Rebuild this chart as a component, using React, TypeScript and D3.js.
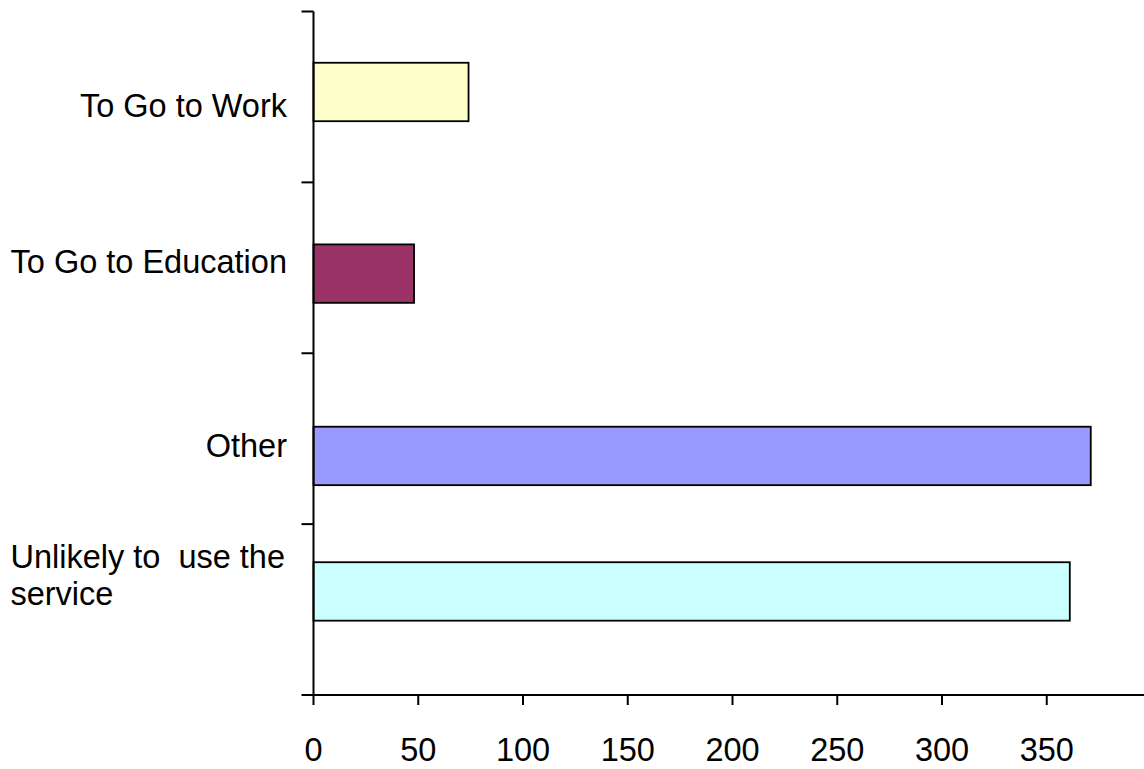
import React, { useEffect, useRef } from "react";
import * as d3 from "d3";

const categories: string[][] = [
  ["To Go to Work"],
  ["To Go to Education"],
  ["Other"],
  ["Unlikely to  use the", "service"],
];
const values: number[] = [74, 48, 371, 361];
const colors: string[] = ["#FFFFCC", "#993366", "#9999FF", "#CCFFFF"];
// positions along the category axis (in category units from bottom)
const barPos: number[] = [3.529, 2.466, 1.399, 0.606];
const labelPos: number[] = [3.452, 2.536, 1.459, 0.702];
const xTicks: number[] = [0, 50, 100, 150, 200, 250, 300, 350];
const catTicks: number[] = [0, 1, 2, 3, 4];

const W = 1144;
const H = 769;
const FONT = "'Liberation Sans', Arial, sans-serif";
const FS = 32.5;

export default function App() {
  const ref = useRef<SVGSVGElement>(null);
  useEffect(() => {
    const svg = d3.select(ref.current);
    svg.selectAll("*").remove();
    const x = d3.scaleLinear().domain([0, 400]).range([313.5, 1151.5]);
    const y = d3.scaleLinear().domain([0, 4]).range([695, 11.5]);
    const barH = y(0) - y(0.342);

    // bars
    svg
      .append("g")
      .selectAll("rect")
      .data(values)
      .join("rect")
      .attr("x", x(0))
      .attr("y", (_, i) => y(barPos[i]) - barH / 2)
      .attr("width", (d) => x(d) - x(0))
      .attr("height", barH)
      .attr("fill", (_, i) => colors[i])
      .attr("stroke", "#000")
      .attr("stroke-width", 1.8);

    // axes
    const ax = svg.append("g").attr("stroke", "#000").attr("stroke-width", 2);
    ax.append("line")
      .attr("x1", x(0))
      .attr("x2", x(0))
      .attr("y1", y(4))
      .attr("y2", y(0));
    ax.append("line")
      .attr("x1", x(0))
      .attr("x2", W + 10)
      .attr("y1", y(0))
      .attr("y2", y(0));
    ax.selectAll("line.ct")
      .data(catTicks)
      .join("line")
      .attr("class", "ct")
      .attr("x1", x(0) - 12)
      .attr("x2", x(0))
      .attr("y1", (d) => y(d))
      .attr("y2", (d) => y(d));
    ax.selectAll("line.xt")
      .data(xTicks)
      .join("line")
      .attr("class", "xt")
      .attr("x1", (d) => x(d))
      .attr("x2", (d) => x(d))
      .attr("y1", y(0))
      .attr("y2", y(0) + 10);

    // x tick labels
    svg
      .append("g")
      .selectAll("text")
      .data(xTicks)
      .join("text")
      .attr("x", (d) => x(d))
      .attr("y", y(0) + 66)
      .attr("text-anchor", "middle")
      .attr("font-family", FONT)
      .attr("font-size", FS)
      .attr("fill", "#000")
      .text((d) => String(d));

    // category labels
    const lineH = 36.7;
    const rightEdge = 287;
    categories.forEach((lines, i) => {
      const first = y(labelPos[i]) + 11.6 - ((lines.length - 1) * lineH) / 2;
      const t = svg
        .append("text")
        .attr("font-family", FONT)
        .attr("font-size", FS)
        .attr("fill", "#000")
        .style("white-space", "pre");
      const spans = lines.map((ln, j) =>
        t
          .append("tspan")
          .attr("y", first + j * lineH)
          .text(ln)
      );
      let maxW = 0;
      spans.forEach((s) => {
        const n = s.node() as SVGTSpanElement;
        maxW = Math.max(maxW, n.getComputedTextLength());
      });
      if (lines.length === 1) {
        spans[0].attr("x", rightEdge).attr("text-anchor", "end");
      } else {
        spans.forEach((s) => s.attr("x", rightEdge - 2 - maxW));
      }
    });
  }, []);
  return (
    <svg
      ref={ref}
      width={W}
      height={H}
      style={{ position: "absolute", left: 0, top: 0, background: "#fff" }}
    />
  );
}
